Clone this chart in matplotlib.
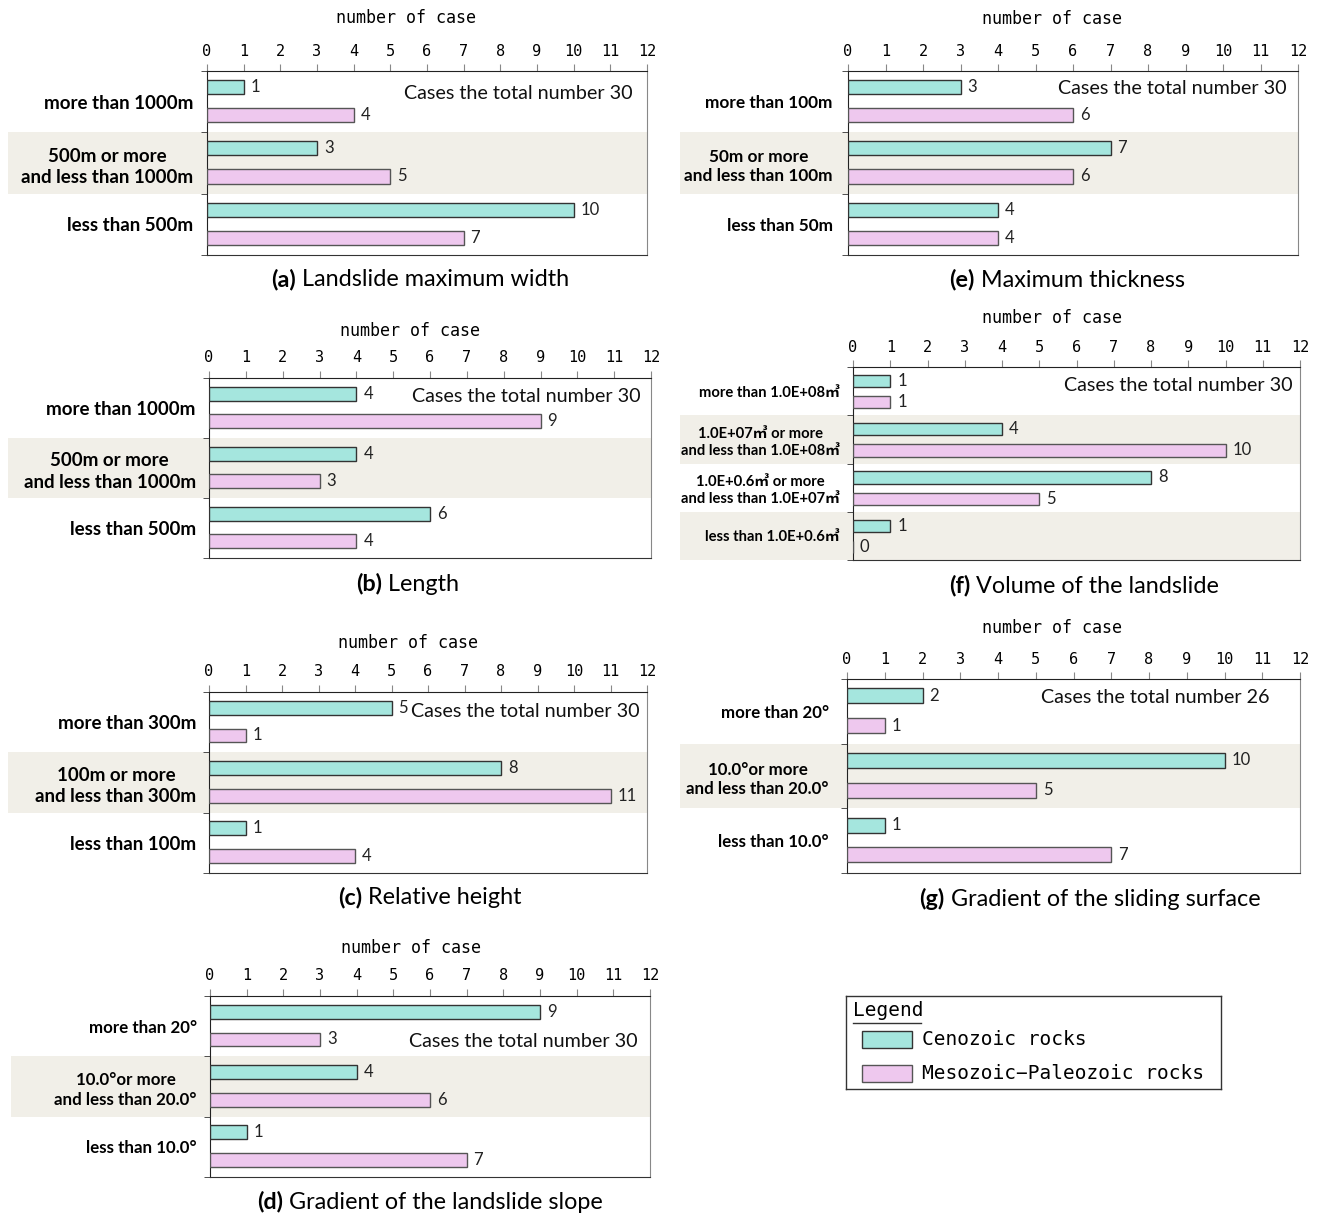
import matplotlib
matplotlib.use('Agg')
import matplotlib.pyplot as plt
import matplotlib.transforms as mtransforms
from matplotlib import font_manager as fm
from matplotlib.patches import Rectangle
from matplotlib.offsetbox import TextArea, HPacker, AnnotationBbox
import numpy as np

# ---------------- data ----------------
x_ticks = list(range(0, 13))
series_names = ["Cenozoic rocks", "Mesozoic\u2212Paleozoic rocks"]

a_categories = ["more than 1000m", "500m or more\nand less than 1000m", "less than 500m"]
a_cenozoic = [1, 3, 10]
a_mesozoic = [4, 5, 7]

b_categories = ["more than 1000m", "500m or more\nand less than 1000m", "less than 500m"]
b_cenozoic = [4, 4, 6]
b_mesozoic = [9, 3, 4]

c_categories = ["more than 300m", "100m or more\nand less than 300m", "less than 100m"]
c_cenozoic = [5, 8, 1]
c_mesozoic = [1, 11, 4]

d_categories = ["more than 20°", "10.0°or more\nand less than 20.0°", "less than 10.0°"]
d_cenozoic = [9, 4, 1]
d_mesozoic = [3, 6, 7]

e_categories = ["more than 100m", "50m or more\nand less than 100m", "less than 50m"]
e_cenozoic = [3, 7, 4]
e_mesozoic = [6, 6, 4]

f_categories = ["more than 1.0E+08\u33a5", "1.0E+07\u33a5 or more\nand less than 1.0E+08\u33a5",
                "1.0E+0.6\u33a5 or more\nand less than 1.0E+07\u33a5", "less than 1.0E+0.6\u33a5"]
f_cenozoic = [1, 4, 8, 1]
f_mesozoic = [1, 10, 5, 0]

g_categories = ["more than 20°", "10.0°or more\nand less than 20.0°", "less than 10.0°"]
g_cenozoic = [2, 10, 1]
g_mesozoic = [1, 5, 7]

totals = {"a": 30, "b": 30, "c": 30, "d": 30, "e": 30, "f": 30, "g": 26}
titles = {"a": "Landslide maximum width", "b": "Length", "c": "Relative height",
          "d": "Gradient of the landslide slope", "e": "Maximum thickness",
          "f": "Volume of the landslide", "g": "Gradient of the sliding surface"}

# ---------------- style ----------------
def pick(*names):
    for n in names:
        try:
            fm.findfont(fm.FontProperties(family=n), fallback_to_default=False)
            return n
        except Exception:
            pass
    return 'DejaVu Sans'

SANS = pick('Lato', 'Open Sans', 'Roboto')
MONO = 'DejaVu Sans Mono'
CEN = '#a5e6de'
MES = '#eec8ee'
CEN_EDGE = '#333333'
MES_EDGE = '#555555'
BAND = '#f1efe8'

W, H = 1320, 1215
fig = plt.figure(figsize=(W / 100, H / 100), dpi=100)

layout = {
    "a": dict(box=(207, 647, 71, 255), band=8, tot=(11.6, -0.14), title=(420, 279), xl=(406, 18), fs=13.5, pad=10),
    "b": dict(box=(209, 651, 378, 558), band=8, tot=(11.73, -0.2), title=(408, 584), xl=(410, 331), fs=13.5, pad=9.5),
    "c": dict(box=(209, 647, 692, 873), band=8, tot=(11.8, -0.17), title=(430, 897), xl=(408, 643), fs=13.5, pad=9),
    "d": dict(box=(210, 650, 996, 1177), band=11, tot=(11.67, 0.25), title=(430, 1202), xl=(411, 948), fs=12.2, pad=9.5),
    "e": dict(box=(848, 1298, 71, 255), band=680, tot=(11.7, -0.22), title=(1067, 280), xl=(1052, 19), fs=12.4, pad=11),
    "f": dict(box=(853, 1300, 367, 560), band=680, tot=(11.81, -0.11), title=(1084, 586), xl=(1052, 318), fs=10.6, pad=9.5),
    "g": dict(box=(847, 1300, 679, 873), band=680, tot=(11.2, -0.22), title=(1090, 899), xl=(1052, 628), fs=12.2, pad=13),
}

data = {
    "a": (a_categories, a_cenozoic, a_mesozoic),
    "b": (b_categories, b_cenozoic, b_mesozoic),
    "c": (c_categories, c_cenozoic, c_mesozoic),
    "d": (d_categories, d_cenozoic, d_mesozoic),
    "e": (e_categories, e_cenozoic, e_mesozoic),
    "f": (f_categories, f_cenozoic, f_mesozoic),
    "g": (g_categories, g_cenozoic, g_mesozoic),
}

for key, (cats, cen, mes) in data.items():
    L = layout[key]
    x0, x1, y0, y1 = L["box"]
    ax = fig.add_axes([x0 / W, 1 - y1 / H, (x1 - x0) / W, (y1 - y0) / H])
    n = len(cats)
    idx = np.arange(n)
    if n == 4:
        oc, om, bh = -0.21, 0.23, 0.25
    else:
        oc, om, bh = -0.24, 0.22, 0.23
    ax.barh(idx + oc, cen, height=bh, color=CEN, edgecolor=CEN_EDGE, linewidth=1, zorder=3)
    ax.barh(idx + om, mes, height=bh, color=MES, edgecolor=MES_EDGE, linewidth=1, zorder=3)
    for vals, off in ((cen, oc), (mes, om)):
        for i, v in enumerate(vals):
            ax.annotate(str(v), (v, i + off), xytext=(5, 0), textcoords='offset points',
                        ha='left', va='center', fontsize=12, family=SANS, color='#222222', zorder=4)
    ax.set_xlim(0, 12)
    ax.set_ylim(n - 0.5, -0.5)
    ax.xaxis.tick_top()
    ax.set_xticks(x_ticks)
    ax.set_xticklabels([str(t) for t in x_ticks], family=MONO, fontsize=11)
    ax.tick_params(axis='x', direction='out', length=5, pad=4, color='#888888')
    ax.set_yticks(idx)
    ax.set_yticklabels(cats, fontweight='bold', fontsize=L["fs"])
    for lab in ax.get_yticklabels():
        lab.set_multialignment('center')
        lab.set_linespacing(1.3)
        lab.set_fontfamily([SANS, 'Noto Sans CJK JP'])
    ax.tick_params(axis='y', which='major', length=0, pad=L["pad"])
    ax.set_yticks(np.arange(n + 1) - 0.5, minor=True)
    ax.tick_params(axis='y', which='minor', length=4, direction='out', color='#333333')
    ax.spines['top'].set_color('#222222')
    ax.spines['left'].set_color('#222222')
    ax.spines['bottom'].set_color('#333333')
    ax.spines['right'].set_color('#888888')
    trans = mtransforms.blended_transform_factory(fig.transFigure, ax.transData)
    for i in range(1, n, 2):
        ax.add_patch(Rectangle((L["band"] / W, i - 0.5), (x1 - L["band"]) / W, 1.0,
                               transform=trans, facecolor=BAND, edgecolor='none',
                               zorder=0.5, clip_on=False))
    ax.text(L["tot"][0], L["tot"][1], f"Cases the total number {totals[key]}",
            ha='right', va='center', fontsize=14.2, family=SANS, color='#111111', zorder=5)
    fig.text(L["xl"][0] / W, 1 - L["xl"][1] / H, "number of case", ha='center', va='center',
             family=MONO, fontsize=12)
    tb = TextArea(f"({key})", textprops=dict(fontweight='bold', fontsize=16.8, family=SANS))
    tr = TextArea(" " + titles[key], textprops=dict(fontsize=16.8, family=SANS))
    box = HPacker(children=[tb, tr], align='baseline', pad=0, sep=0)
    ab = AnnotationBbox(box, (L["title"][0], H - L["title"][1]), xycoords='figure pixels',
                        box_alignment=(0.5, 0.5), frameon=False)
    fig.add_artist(ab)

# ---------------- legend ----------------
lx0, lx1, ly0, ly1 = 846, 1221, 996, 1089
lax = fig.add_axes([lx0 / W, 1 - ly1 / H, (lx1 - lx0) / W, (ly1 - ly0) / H])
lax.set_xlim(0, lx1 - lx0)
lax.set_ylim(ly1 - ly0, 0)
lax.set_xticks([])
lax.set_yticks([])
for s in lax.spines.values():
    s.set_color('#333333')
    s.set_linewidth(1)
lax.text(7, 15, "Legend", ha='left', va='center', family=MONO, fontsize=14)
lax.plot([7, 75], [27, 27], color='#333333', lw=1)
for j, (name, col, ec) in enumerate(((series_names[0], CEN, CEN_EDGE), (series_names[1], MES, MES_EDGE))):
    yy = 35 + 34 * j
    lax.add_patch(Rectangle((16, yy), 50, 17, facecolor=col, edgecolor=ec, lw=1))
    lax.text(76, yy + 8.5, name, ha='left', va='center', family=MONO, fontsize=14)

fig.savefig('out.png', dpi=100)
